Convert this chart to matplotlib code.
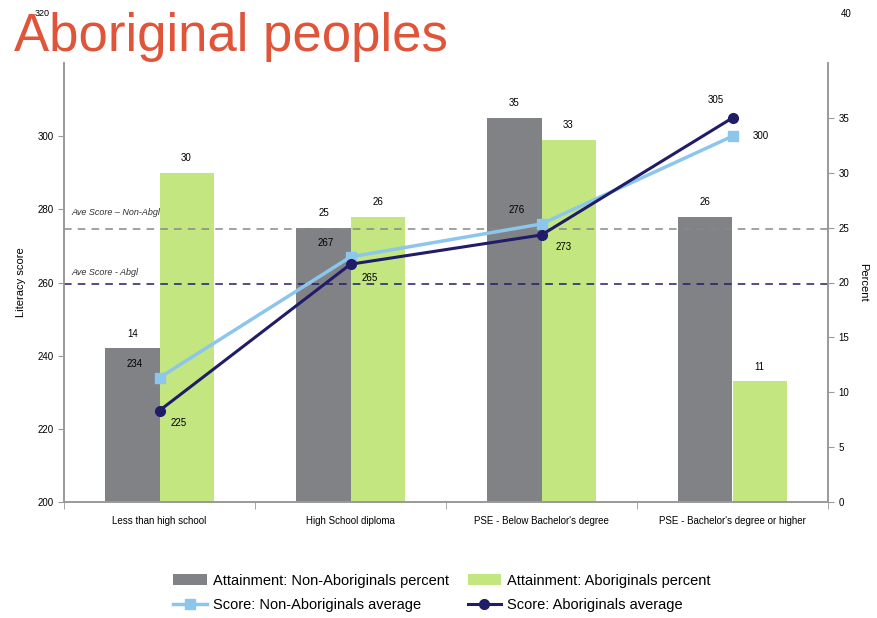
import numpy as np
import matplotlib
matplotlib.use("Agg")
import matplotlib.pyplot as plt

# data
categories = ["Less than high school", "High School diploma",
              "PSE - Below Bachelor's degree", "PSE - Bachelor's degree or higher"]
pct_non_abgl = [14, 25, 35, 26]
pct_abgl = [30, 26, 33, 11]
score_non_abgl = [234, 267, 276, 300]
score_abgl = [225, 265, 273, 305]
avg_non_abgl = 274.5
avg_abgl = 259.7

GRAY = "#808285"
GREEN = "#c4e680"
LBLUE = "#8cc6ec"
NAVY = "#201c68"
AXC = "#999999"

plt.rcParams['font.family'] = ['Liberation Sans', 'DejaVu Sans']

fig = plt.figure(figsize=(8.77, 6.18), dpi=100)
ax = fig.add_axes([64/877, 116/618, 764/877, 439/618])
ax2 = ax.twinx()
ax.set_zorder(ax2.get_zorder() + 1)
ax.patch.set_visible(False)

x = np.arange(len(categories))
w = 0.283

# bars on the percent axis
b1 = ax2.bar(x - w/2, pct_non_abgl, w, color=GRAY, label="Attainment: Non-Aboriginals percent")
b2 = ax2.bar(x + w/2, pct_abgl, w, color=GREEN, label="Attainment: Aboriginals percent")
for xi, v in zip(x, pct_non_abgl):
    ax2.annotate(str(v), (xi - w/2, v), xytext=(0, 7), textcoords="offset points",
                 ha="center", va="bottom", fontsize=7)
for xi, v in zip(x, pct_abgl):
    ax2.annotate(str(v), (xi + w/2, v), xytext=(0, 7), textcoords="offset points",
                 ha="center", va="bottom", fontsize=7)

# average reference lines
ax.axhline(avg_non_abgl, color="#888888", ls=(0, (5, 4)), lw=1.1)
ax.axhline(avg_abgl, color=NAVY, ls=(0, (5, 4)), lw=1.1)
ax.text(0.01, avg_non_abgl + 4, "Ave Score \u2013 Non-Abgl", transform=ax.get_yaxis_transform(),
        fontsize=6.5, style="italic", color="#333333")
ax.text(0.01, avg_abgl + 2.4, "Ave Score - Abgl", transform=ax.get_yaxis_transform(),
        fontsize=6.5, style="italic", color="#333333")

# score lines
l1, = ax.plot(x, score_non_abgl, color=LBLUE, lw=2.5, marker="s", ms=7,
              label="Score: Non-Aboriginals average")
l2, = ax.plot(x, score_abgl, color=NAVY, lw=2.2, marker="o", ms=7,
              label="Score: Aboriginals average")

nb_off = [(-18, 10), (-18, 10), (-18, 10), (20, 0)]
ab_off = [(14, -9), (14, -10), (16, -9), (-12, 13)]
for xi, v, o in zip(x, score_non_abgl, nb_off):
    ax.annotate(str(v), (xi, v), xytext=o, textcoords="offset points",
                ha="center", va="center", fontsize=7)
for xi, v, o in zip(x, score_abgl, ab_off):
    ax.annotate(str(v), (xi, v), xytext=o, textcoords="offset points",
                ha="center", va="center", fontsize=7)

# axes
ax.set_xlim(-0.5, 3.5)
ax.set_ylim(200, 320)
ax2.set_ylim(0, 40)
ax.set_yticks(range(200, 301, 20))
ax2.set_yticks(range(0, 36, 5))
ax.set_xticks(x)
ax.set_xticklabels(categories, fontsize=7)
ax.set_xticks(np.arange(-0.5, 4, 1), minor=True)
ax.tick_params(axis="x", which="major", length=0, pad=10)
ax.tick_params(axis="x", which="minor", length=5, color=AXC)
ax.tick_params(axis="y", labelsize=7, length=4, color=AXC)
ax2.tick_params(axis="y", labelsize=7, length=4, color=AXC)
for a in (ax, ax2):
    a.spines["top"].set_visible(False)
    for s in ("left", "right", "bottom"):
        a.spines[s].set_color(AXC)
        a.spines[s].set_linewidth(1.2)
ax.set_ylabel("Literacy score", fontsize=8, labelpad=8)
ax2.set_ylabel("Percent", fontsize=8, rotation=-90, labelpad=14)

# top tick labels sit up beside the title
fig.text(42/877, 1 - 13/618, "320", fontsize=6.5, ha="center", va="center")
fig.text(846/877, 1 - 14/618, "40", fontsize=7, ha="center", va="center")

fig.text(14/877, 1 - 37/618, "Aboriginal peoples", fontsize=38, color="#e0553a",
         ha="left", va="center")

# row-major order like the reference: bars in row 1, lines in row 2
handles = [b1, l1, b2, l2]
fig.legend(handles=handles, labels=[h.get_label() for h in handles], ncol=2,
           loc="center", bbox_to_anchor=(442/877, 1 - 593/618), frameon=False,
           fontsize=10.5, columnspacing=1.3, handlelength=2.3, handletextpad=0.4,
           labelspacing=0.75)

fig.savefig("out.png", dpi=100)
